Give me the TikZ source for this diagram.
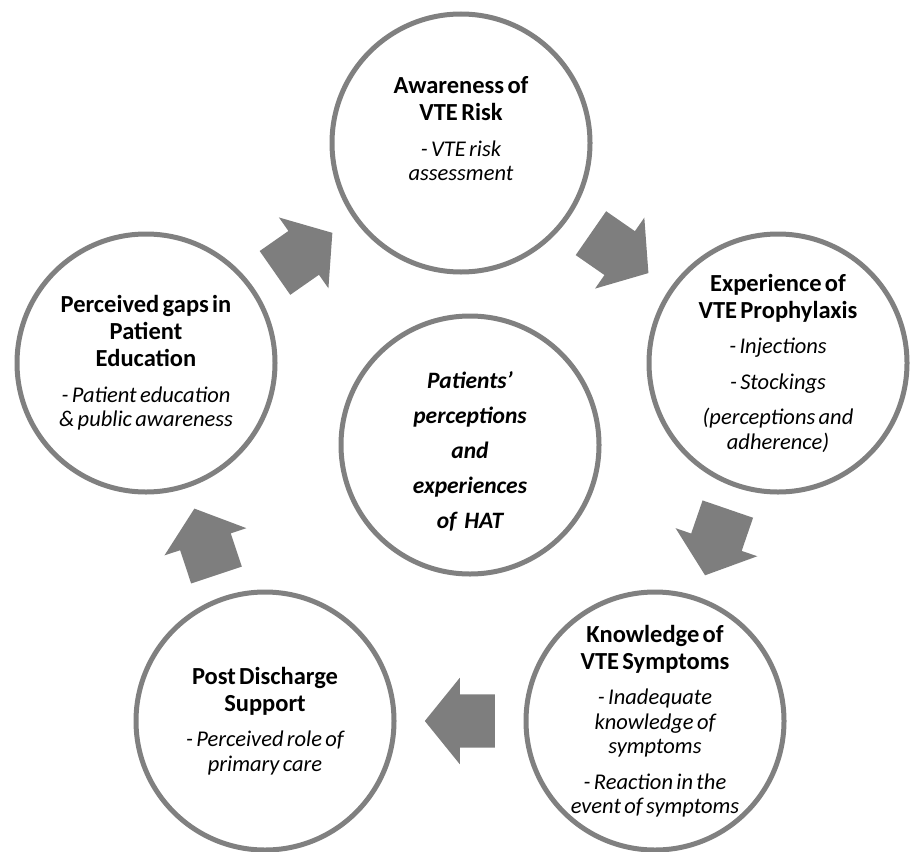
\documentclass[tikz,border=0pt]{standalone}
\usepackage{fontspec}
\setmainfont{Carlito}
\usepackage{tikz}
\usetikzlibrary{shapes.arrows, calc}
\definecolor{ringgray}{RGB}{128,128,128}
\definecolor{arrowgray}{RGB}{126,126,126}
\tikzstyle{ring} = [draw=ringgray, line width=5pt, circle,
    fill=white, minimum size=258pt]
\tikzstyle{blurb} = [align=center, text width=220pt, inner sep=0pt]
\tikzstyle{blkarrow} = [single arrow, fill=arrowgray, inner xsep=0pt, inner ysep=26.5pt,
    minimum height=70pt, single arrow head extend=16.5pt, single arrow tip angle=102,
    sloped, allow upside down, pos=0, anchor=tail]
\newcommand{\ttl}[1]{{\fontsize{24.5}{27}\selectfont\bfseries #1\par}}
\newcommand{\itm}[1]{\vspace{11pt}{\fontsize{22.5}{24.5}\selectfont\itshape #1\par}}

\begin{document}
\begin{tikzpicture}[x=1pt, y=-1pt]
    \useasboundingbox (0,0) rectangle (912,851);
    \node [ring] (aware) at (461,143) {};
    \node [ring] (proph) at (778,363) {};
    \node [ring] (know) at (655,721) {};
    \node [ring] (post) at (265,721) {};
    \node [ring] (educ) at (146,363) {};
    \node [ring] (hat) at (470,445) {};
    \node [blurb] (awaretxt) at ([yshift=14pt]aware.center)
        {\ttl{Awareness of\\VTE Risk}\itm{- VTE risk\\assessment}};
    \node [blurb] (prophtxt) at (proph)
        {\ttl{Experience of\\VTE Prophylaxis}\itm{- Injections}\itm{- Stockings}
         \itm{(perceptions and\\adherence)}};
    \node [blurb] (knowtxt) at (know)
        {\ttl{Knowledge of\\VTE Symptoms}\itm{- Inadequate\\knowledge of\\symptoms}
         \itm{- Reaction in the\\event of symptoms}};
    \node [blurb] (posttxt) at (post)
        {\ttl{Post Discharge\\Support}\itm{- Perceived role of\\primary care}};
    \node [blurb] (eductxt) at (educ)
        {\ttl{Perceived gaps in\\Patient\\Education}\itm{- Patient education\\\& public awareness}};
    \node [blurb, font=\fontsize{23.5}{35}\selectfont\bfseries\itshape] (hattxt) at ([yshift=-6pt]hat.center)
        {Patients’\\perceptions\\and\\experiences\\of HAT};
    \path ($(educ)!0.5!(aware)!-35pt!(aware)$) -- node [blkarrow] (toaware) {} (aware);
    \path ($(aware)!0.5!(proph)!-35pt!(proph)$) -- node [blkarrow] (toproph) {} (proph);
    \path ($(proph)!0.5!(know)!-35pt!(know)$) -- node [blkarrow] (toknow) {} (know);
    \path ($(know)!0.5!(post)!-35pt!(post)$) -- node [blkarrow] (topost) {} (post);
    \path ($(post)!0.5!(educ)!-35pt!(educ)$) -- node [blkarrow] (toeduc) {} (educ);
\end{tikzpicture}
\end{document}
